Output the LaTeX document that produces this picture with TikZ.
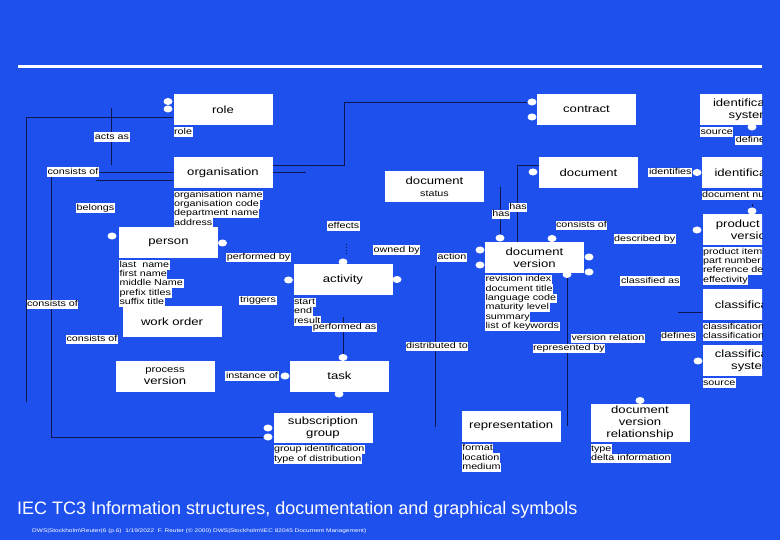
\documentclass[tikz,border=0pt]{standalone}
\usepackage{fontspec}
\setmainfont{Liberation Sans}
\newfontfamily\slidefont[FakeStretch=1.25]{Liberation Sans}
\usepackage{tikz}
\usetikzlibrary{shapes.geometric}
\definecolor{slideblue}{HTML}{1E50EE}
\definecolor{linenavy}{HTML}{0D1650}

\begin{document}
\begin{tikzpicture}[x=1pt,y=-1pt]
    \tikzstyle{entity}=[fill=white,minimum width=99pt,minimum height=31pt,inner sep=1pt,align=center,font=\slidefont\fontsize{10.5}{12}\selectfont]
    \tikzstyle{attr}=[fill=white,inner sep=0.6pt,text height=6.2pt,text depth=1.9pt,anchor=north west,font=\slidefont\fontsize{8.6}{9}\selectfont]
    \tikzstyle{rel}=[attr,anchor=center]
    \tikzstyle{knob}=[ellipse,fill=white,inner sep=0pt,minimum width=9pt,minimum height=7pt]
    \tikzstyle{link}=[draw=linenavy,line width=0.9pt]

    \useasboundingbox (0,0) rectangle (780,540);
    \fill[slideblue] (0,0) rectangle (780,540);
    \draw[white,line width=3pt] (18,67) -- (762,67);

    \begin{scope}
    \clip (0,0) rectangle (762,480);

    % entities
    \node[entity] (role) at (223,109.5) {role};
    \node[entity] (org) at (223,172.7) {organisation};
    \node[entity] (person) at (168.5,242.5) {person};
    \node[entity] (workorder) at (172,321.7) {work order};
    \node[entity] (procver) at (165,376.2) {{\fontsize{9}{12}\selectfont process}\\version};
    \node[entity] (activity) at (343,280) {activity};
    \node[entity] (task) at (339.5,376.2) {task};
    \node[entity,minimum height=30pt] (subgroup) at (323,427.5) {subscription\\group};
    \node[entity] (docstatus) at (434.5,187) {document\\{\fontsize{8.6}{10}\selectfont status}};
    \node[entity] (contract) at (586.5,109.5) {contract};
    \node[entity] (document) at (588.5,173) {document};
    \node[entity] (docversion) at (534.5,257.3) {document\\version};
    \node[entity] (repr) at (511.2,426.2) {representation};
    \node[entity,minimum height=38pt] (dvrel) at (640,422.8) {document\\version\\relationship};
    \node[entity] (idsystem) at (749.5,109.5) {identification\\system};
    \node[entity] (ident) at (751,173) {identification};
    \node[entity] (prodver) at (752,229.5) {product item\\version};
    \node[entity] (classif) at (752,305) {classification};
    \node[entity] (classsys) at (752,360.5) {classification\\system};

    % attributes
    \node[attr] (role-a0) at ([yshift=-2pt]role.south west) {role};
    \foreach \txt [count=\i from 0] in {organisation name,organisation code,department name,address}
        \node[attr] (org-a\i) at ([yshift=-2pt-\i*9.3pt]org.south west) {\txt};
    \foreach \txt [count=\i from 0] in {last\ \ name,first name,middle Name,prefix titles,suffix title}
        \node[attr] (person-a\i) at ([yshift=-2pt-\i*9.3pt]person.south west) {\txt};
    \foreach \txt [count=\i from 0] in {start,end,result}
        \node[attr] (activity-a\i) at ([yshift=-2pt-\i*9.3pt]activity.south west) {\txt};
    \foreach \txt [count=\i from 0] in {revision index,document title,language code,maturity level,summary,list of keywords}
        \node[attr] (docversion-a\i) at ([yshift=-2pt-\i*9.3pt]docversion.south west) {\txt};
    \foreach \txt [count=\i from 0] in {group identification,type of distribution}
        \node[attr] (subgroup-a\i) at ([yshift=-2pt-\i*9.3pt]subgroup.south west) {\txt};
    \foreach \txt [count=\i from 0] in {format,location,medium}
        \node[attr] (repr-a\i) at ([yshift=-2pt-\i*9.3pt]repr.south west) {\txt};
    \foreach \txt [count=\i from 0] in {type,delta information}
        \node[attr] (dvrel-a\i) at ([yshift=-2pt-\i*9.3pt]dvrel.south west) {\txt};
    \node[attr] (idsystem-a0) at ([yshift=-2pt]idsystem.south west) {source};
    \node[attr] (ident-a0) at ([yshift=-2pt]ident.south west) {document number};
    \foreach \txt [count=\i from 0] in {product item,part number,reference designation,effectivity}
        \node[attr] (prodver-a\i) at ([yshift=-2pt-\i*9.3pt]prodver.south west) {\txt};
    \foreach \txt [count=\i from 0] in {classification code,classification name}
        \node[attr] (classif-a\i) at ([yshift=-2pt-\i*9.3pt]classif.south west) {\txt};
    \node[attr] (classsys-a0) at ([yshift=-2pt]classsys.south west) {source};

    % connector ends
    \node[knob] (roleA) at (168,101.5) {};
    \node[knob] (roleB) at (168,109) {};
    \node[knob] (personL) at (112,236) {};
    \node[knob] (personR) at (222.5,243) {};
    \node[knob] (actL) at (288.5,280) {};
    \node[knob] (actR) at (397,279.5) {};
    \node[knob] (actT) at (343,262) {};
    \node[knob] (taskT) at (343,357.5) {};
    \node[knob] (taskL) at (285,376) {};
    \node[knob] (taskB) at (339,394) {};
    \node[knob] (sgA) at (268,428) {};
    \node[knob] (sgB) at (268,437) {};
    \node[knob] (ctA) at (532,102) {};
    \node[knob] (ctB) at (532,117) {};
    \node[knob] (docL) at (533,172) {};
    \node[knob] (dvTL) at (500,238) {};
    \node[knob] (dvTR) at (552,238.5) {};
    \node[knob] (dvLA) at (480,250) {};
    \node[knob] (dvLB) at (480,265) {};
    \node[knob] (dvRA) at (589,257) {};
    \node[knob] (dvRB) at (589,272) {};
    \node[knob] (dvB) at (567,274.5) {};
    \node[knob] (dvrT) at (640,400.5) {};
    \node[knob] (idsB) at (752,127) {};
    \node[knob] (idL) at (697,172.5) {};
    \node[knob] (idB) at (752,211) {};
    \node[knob] (pvL) at (697,230) {};
    \node[knob] (csL) at (698,361) {};

    % connectors
    \coordinate (lt) at (26,117.5);
    \coordinate (lb) at (26,402);
    \draw[link] (lb) -- (lt) -- (lt -| role.west);
    \coordinate (asT) at (111,108);
    \coordinate (asB) at (111,165);
    \draw[link] (asT) -- (asB);
    \coordinate (c51) at (51,437);
    \draw[link] (org.west) -| (c51) -- (sgB.west);
    \coordinate (blg) at (96,180.5);
    \draw[link] (blg) -- (blg -| org.west);
    \coordinate (oc1) at (344,165);
    \coordinate (oc2) at (344,102);
    \draw[link] (oc1 -| org.east) -- (oc1) -- (oc2) -- (ctA.west);
    \coordinate (ostub) at (306,172.5);
    \draw[link] (ostub -| org.east) -- (ostub);
    \coordinate (dh) at (517,165);
    \draw[link] (dh -| document.west) -- (dh) -- (dh |- docversion.north);
    \coordinate (hasT) at (500,187);
    \draw[link] (hasT) -- (dvTL.north);
    \coordinate (effT) at (346,244);
    \coordinate (effB) at (346,254);
    \draw[link,dotted,line width=0.6pt] (effT) -- (effB);
    \coordinate (perfT) at (343,317);
    \draw[link] (perfT) -- (taskT.north);
    \coordinate (actnT) at (435,266);
    \coordinate (actnB) at (435,427);
    \draw[link] (actnT) -- (actnB);
    \draw[link] (dvB.south) -- (dvB |- repr.east);
    \coordinate (clsL) at (678,312);
    \draw[link] (clsL) -- (clsL -| classif.west);
    \coordinate (idT) at (752,204);
    \draw[link] (idT) -- (idB.north);

    % relationship labels
    \node[rel] (actsas) at (112,137) {acts as};
    \node[rel] (consA) at (73,172) {consists of};
    \node[rel] (belongs) at (95.5,208) {belongs};
    \node[rel] (consB) at (52.5,304.7) {consists of};
    \node[rel] (consC) at (92,339.7) {consists of};
    \node[rel] (perfby) at (258.5,257.7) {performed by};
    \node[rel] (triggers) at (258,300.7) {triggers};
    \node[rel] (effects) at (343.5,226) {effects};
    \node[rel] (ownedby) at (396.7,250) {owned by};
    \node[rel] (action) at (452,257.3) {action};
    \node[rel] (perfas) at (344.5,327.7) {performed as};
    \node[rel] (distto) at (437,346.7) {distributed to};
    \node[rel] (instof) at (252,376) {instance of};
    \node[rel] (hasA) at (501,214.3) {has};
    \node[rel] (hasB) at (518,207.3) {has};
    \node[rel] (consD) at (581.5,225.7) {consists of};
    \node[rel] (descby) at (644.7,239) {described by};
    \node[rel] (classas) at (650.3,281) {classified as};
    \node[rel] (verrel) at (608,338.3) {version relation};
    \node[rel] (reprby) at (569,348.3) {represented by};
    \node[rel] (definesA) at (678.5,336.7) {defines};
    \node[rel] (identifies) at (670.3,172.3) {identifies};
    \node[rel,anchor=west] (definesB) at (735,140.5) {defines};
    \end{scope}

    % slide title and footer
    \node[anchor=base west,inner sep=0,text=white,font=\fontsize{18}{20}\selectfont] (title) at (17,514) {IEC TC3 Information structures, documentation and graphical symbols};
    \node[anchor=base west,inner sep=0,text=white,font=\slidefont\fontsize{5.2}{6}\selectfont] (footer) at (32,532) {DWS|Stockholm\textbackslash Reuter(6 (p.6) \ 1/19/2022 \ F. Reuter (© 2000) DWS|Stockholm\textbackslash IEC 82045 Document Management)};
\end{tikzpicture}
\end{document}
